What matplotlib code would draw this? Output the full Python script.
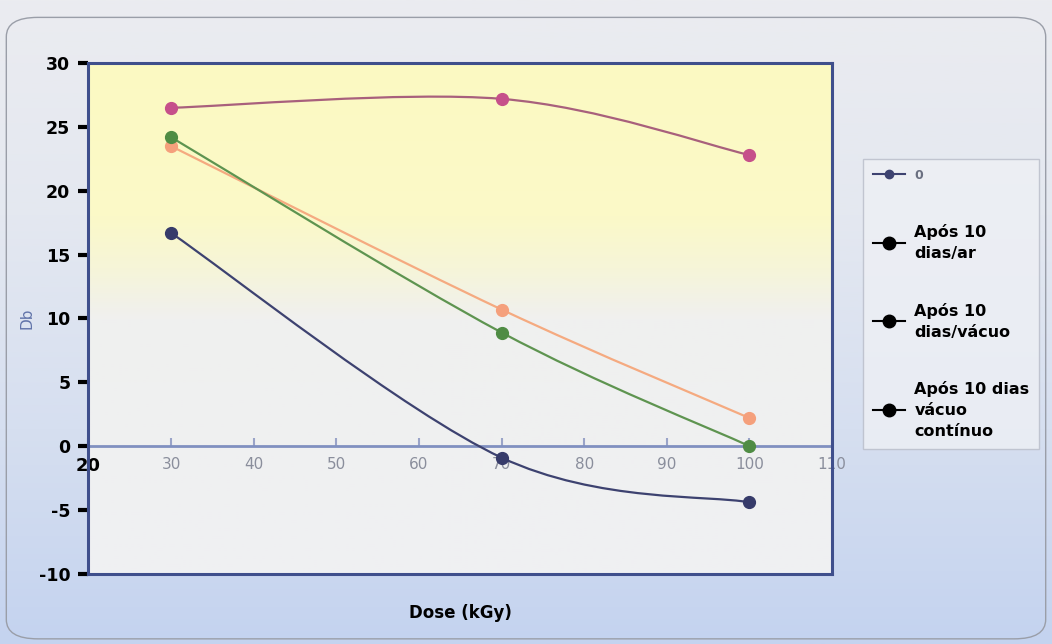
import numpy as np
import matplotlib
matplotlib.use("Agg")
import matplotlib.pyplot as plt
from matplotlib.path import Path
from matplotlib.patches import PathPatch, FancyBboxPatch
from matplotlib.lines import Line2D
from matplotlib.colors import LinearSegmentedColormap

plt.rcParams["axes.unicode_minus"] = False

# dados
dose = [30, 70, 100]
serie_0 = [16.7, -0.9, -4.4]
serie_ar = [26.5, 27.2, 22.8]
serie_vacuo = [23.5, 10.7, 2.2]
serie_continuo = [24.2, 8.9, 0.0]

labels = ["0", "Após 10\ndias/ar", "Após 10\ndias/vácuo", "Após 10 dias\nvácuo\ncontínuo"]
line_colors = ["#3d4270", "#a8607c", "#f5aa80", "#5e9450"]
marker_colors = ["#363b6a", "#c6508a", "#f5a07c", "#4f8c44"]
x_ticks = [20, 30, 40, 50, 60, 70, 80, 90, 100, 110]
y_ticks = [-10, -5, 0, 5, 10, 15, 20, 25, 30]


def smooth_path(xs, ys):
    # curva suavizada tipo Excel (Bezier cúbica, tensão 1/6)
    pts = np.column_stack([xs, ys]).astype(float)
    ext = np.vstack([pts[0], pts, pts[-1]])
    verts = [tuple(pts[0])]
    codes = [Path.MOVETO]
    for i in range(1, len(ext) - 2):
        p0, p1, p2, p3 = ext[i - 1], ext[i], ext[i + 1], ext[i + 2]
        c1 = p1 + (p2 - p0) / 6.0
        c2 = p2 - (p3 - p1) / 6.0
        verts += [tuple(c1), tuple(c2), tuple(p2)]
        codes += [Path.CURVE4] * 3
    return Path(verts, codes)


fig = plt.figure(figsize=(10.52, 6.44), dpi=100)

# fundo da figura (degradê cinza -> azul)
bg = fig.add_axes([0, 0, 1, 1], zorder=-10)
bg_cmap = LinearSegmentedColormap.from_list("bg", ["#c4d3ef", "#d6dff0", "#e4e8f0", "#ebecf0"])
grad = np.linspace(0, 1, 256).reshape(-1, 1)
bg.imshow(grad, aspect="auto", cmap=bg_cmap, extent=[0, 1, 0, 1], origin="lower")
bg.add_patch(FancyBboxPatch((0.006, 0.008), 0.988, 0.965, boxstyle="round,pad=0,rounding_size=0.03",
                            transform=bg.transAxes, facecolor="none", edgecolor="#9a9ea8", lw=1))
bg.set_axis_off()

ax = fig.add_axes([0.084, 0.109, 0.707, 0.793])
ax.set_xlim(20, 110)
ax.set_ylim(-10, 30)

# fundo da área de plotagem
area_cmap = LinearSegmentedColormap.from_list("area", [(0, "#eff0f3"), (0.5, "#f0f0ef"),
                                                       (0.6, "#f6f5d8"), (0.7, "#fbf9c8"),
                                                       (1, "#fcfac2")])
ax.imshow(grad, aspect="auto", cmap=area_cmap, extent=[0, 1, 0, 1], origin="lower",
          transform=ax.transAxes, zorder=0)

series = [serie_0, serie_ar, serie_vacuo, serie_continuo]
for ys, lc, mc in zip(series, line_colors, marker_colors):
    ax.add_patch(PathPatch(smooth_path(dose, ys), facecolor="none", edgecolor=lc, lw=1.6, zorder=3))
    ax.plot(dose, ys, linestyle="none", marker="o", markersize=8.5, color=mc, zorder=4)

# eixo x na linha do zero
ax.axhline(0, color="#8090c0", lw=2, zorder=2)
ax.set_xticks([])
sec = ax.secondary_xaxis(0.25)
sec.set_xticks(x_ticks)
sec.spines["bottom"].set_visible(False)
sec.tick_params(axis="x", direction="in", length=6, width=1.5, color="#9aa4c8",
                labelsize=11, labelcolor="#8a8e9c", pad=8)
for t in sec.get_xticklabels():
    if t.get_text() == "20":
        t.set_color("black")
        t.set_fontweight("bold")
        t.set_fontsize(13)

ax.set_yticks(y_ticks)
ax.tick_params(axis="y", direction="out", length=7, width=3, color="black",
               labelsize=12.5, labelcolor="black", pad=6)
for t in ax.get_yticklabels():
    t.set_fontweight("bold")

for s in ax.spines.values():
    s.set_color("#3f4f8c")
    s.set_linewidth(2.2)

ax.set_ylabel("Db", color="#6274aa", fontsize=11)
ax.yaxis.set_label_coords(-0.072, 0.5)
ax.set_xlabel("Dose (kGy)", fontsize=12, fontweight="bold")
ax.xaxis.set_label_coords(0.5, -0.06)

# legenda
handles = [Line2D([], [], color=line_colors[0], marker="o", markersize=6, lw=1.5)]
for _ in range(3):
    handles.append(Line2D([], [], color="black", marker="o", markersize=9, lw=1.5))
leg = fig.legend(handles, labels, loc="upper left", bbox_to_anchor=(0.816, 0.761),
                 frameon=True, fancybox=False, labelspacing=2.6, handlelength=2.0,
                 handletextpad=0.6, borderpad=0.6, borderaxespad=0.3,
                 prop={"weight": "bold", "size": 11.5})
leg.get_frame().set_edgecolor("#b8bcc8")
leg.get_frame().set_facecolor("#eef0f5")
for t in leg.get_texts():
    t.set_linespacing(1.5)
leg.get_texts()[0].set_color("#6a6f80")
leg.get_texts()[0].set_fontsize(9)

fig.savefig("out.png", dpi=100)
